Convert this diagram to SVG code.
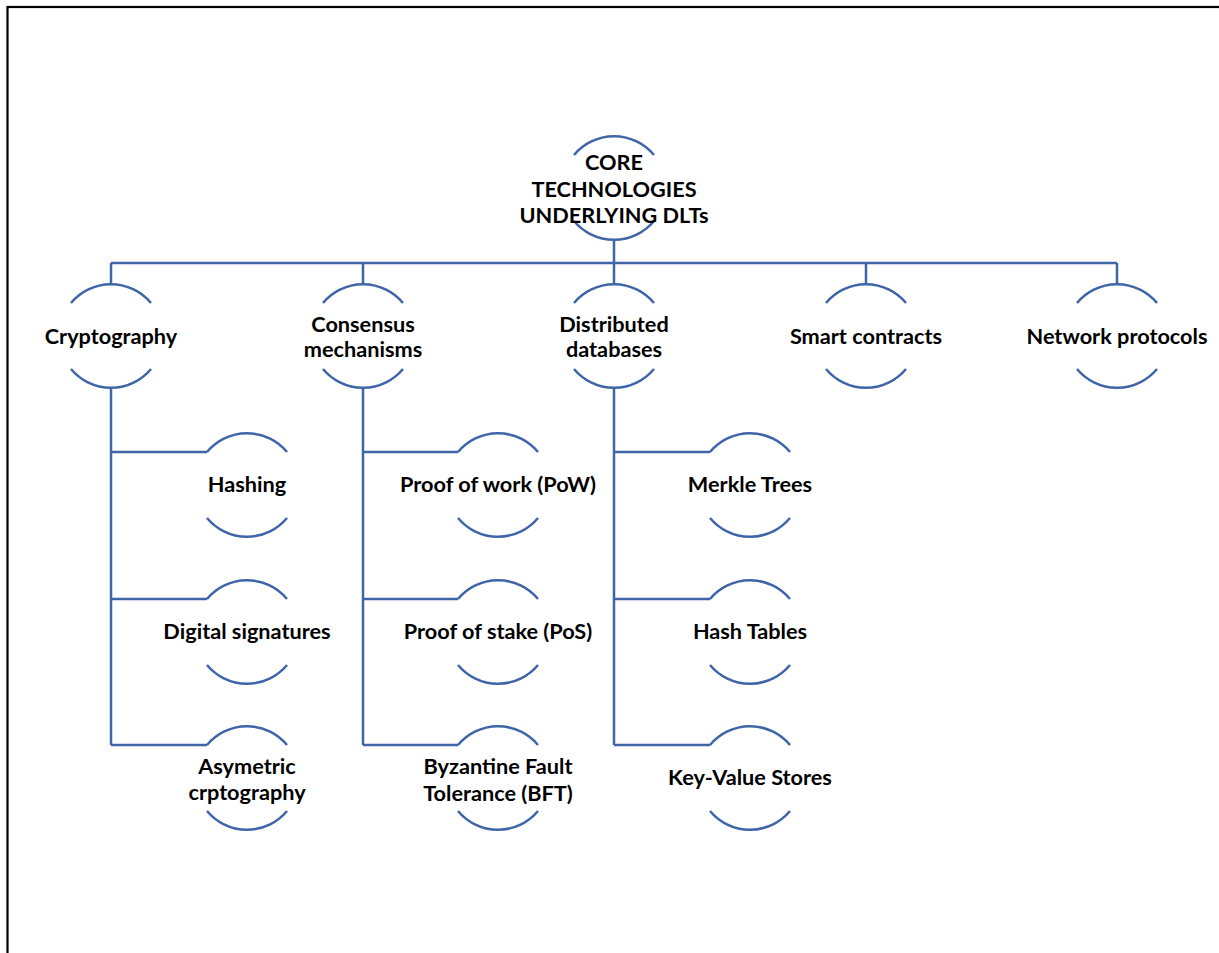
<svg xmlns="http://www.w3.org/2000/svg" width="1219" height="953" viewBox="0 0 1219 953">
<style>
.ln{fill:none;stroke:#3F65A9;stroke-width:2.5}
.t{font-family:Lato,"Liberation Sans",sans-serif;font-weight:bold;font-size:21.7px;fill:#000;text-anchor:middle}
</style>
<defs>
<path id="arcs" class="ln" d="M-40,-33 A52,52 0 0 1 40,-33 M-40,33 A52,52 0 0 0 40,33"/>
</defs>
<rect x="7.5" y="7" width="1260" height="1000" fill="#fff" stroke="#000" stroke-width="2.2"/>
<g id="connectors" class="ln">
<path d="M614,240 V263 M111,263 H1117 M111,263 V284 M363,263 V284 M614,263 V284 M866,263 V284 M1117,263 V284"/>
<path d="M111,388 V745 M111,452 H207 M111,599 H207 M111,745 H207"/>
<path d="M363,388 V745 M363,452 H458 M363,599 H458 M363,745 H458"/>
<path d="M614,388 V745 M614,452 H710 M614,599 H710 M614,745 H710"/>
</g>
<g id="root"><use href="#arcs" x="614" y="188"/>
<text class="t" x="614" y="170">CORE</text><text class="t" x="614" y="197">TECHNOLOGIES</text><text class="t" x="614" y="223">UNDERLYING DLTs</text></g>
<g id="cryptography"><use href="#arcs" x="111" y="336"/><text class="t" x="111" y="344">Cryptography</text></g>
<g id="consensus"><use href="#arcs" x="363" y="336"/><text class="t" x="363" y="332">Consensus</text><text class="t" x="363" y="357">mechanisms</text></g>
<g id="distributed"><use href="#arcs" x="614" y="336"/><text class="t" x="614" y="332">Distributed</text><text class="t" x="614" y="357">databases</text></g>
<g id="smart"><use href="#arcs" x="866" y="336"/><text class="t" x="866" y="344">Smart contracts</text></g>
<g id="network"><use href="#arcs" x="1117" y="336"/><text class="t" x="1117" y="344">Network protocols</text></g>
<g id="hashing"><use href="#arcs" x="247" y="485"/><text class="t" x="247" y="492">Hashing</text></g>
<g id="digsig"><use href="#arcs" x="247" y="632"/><text class="t" x="247" y="639">Digital signatures</text></g>
<g id="asym"><use href="#arcs" x="247" y="778"/><text class="t" x="247" y="774">Asymetric</text><text class="t" x="247" y="800">crptography</text></g>
<g id="pow"><use href="#arcs" x="498" y="485"/><text class="t" x="498" y="492">Proof of work (PoW)</text></g>
<g id="pos"><use href="#arcs" x="498" y="632"/><text class="t" x="498" y="639">Proof of stake (PoS)</text></g>
<g id="bft"><use href="#arcs" x="498" y="778"/><text class="t" x="498" y="774">Byzantine Fault</text><text class="t" x="498" y="801">Tolerance (BFT)</text></g>
<g id="merkle"><use href="#arcs" x="750" y="485"/><text class="t" x="750" y="492">Merkle Trees</text></g>
<g id="hashtables"><use href="#arcs" x="750" y="632"/><text class="t" x="750" y="639">Hash Tables</text></g>
<g id="kv"><use href="#arcs" x="750" y="778"/><text class="t" x="750" y="785">Key-Value Stores</text></g>
</svg>
